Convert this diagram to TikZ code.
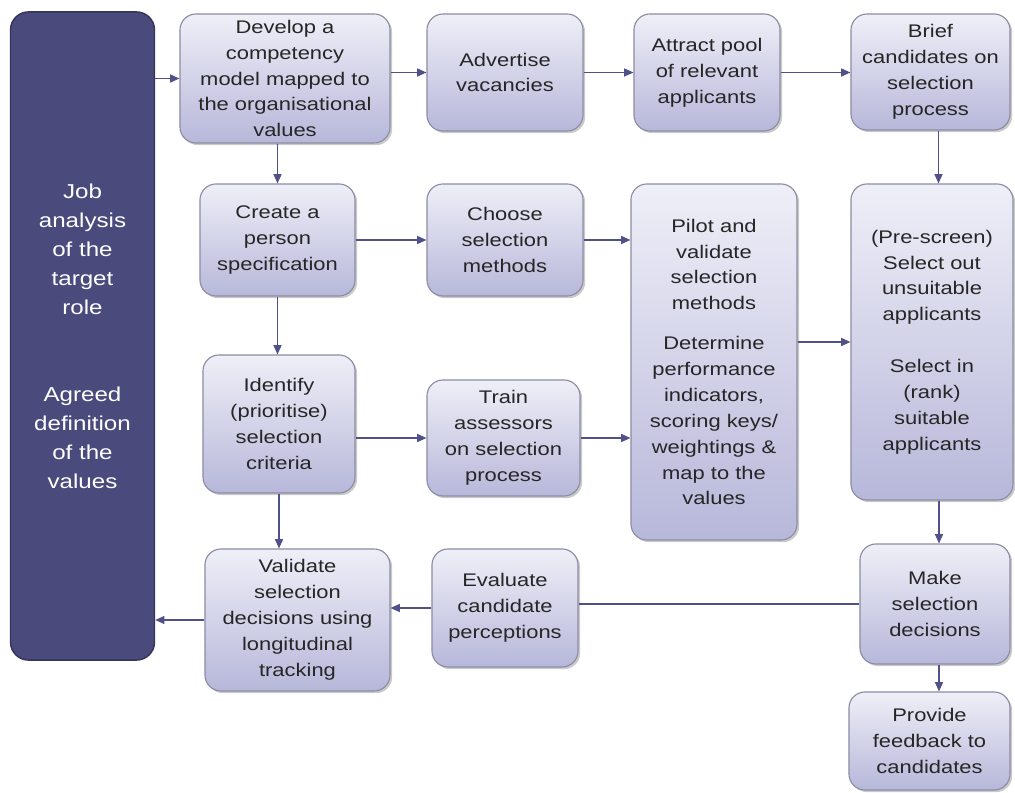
\documentclass[tikz,border=0pt]{standalone}
\usepackage{fontspec}
\setmainfont{Liberation Sans}[FakeStretch=1.2]
\usetikzlibrary{arrows.meta,shadows}
\definecolor{barfill}{HTML}{4B4A7D}
\definecolor{barline}{HTML}{34335A}
\definecolor{boxtop}{HTML}{EFEFF8}
\definecolor{boxbot}{HTML}{B7B7DA}
\definecolor{boxline}{HTML}{8C8CA4}
\definecolor{flowline}{HTML}{50508A}

\begin{document}
\begin{tikzpicture}[x=0.025cm, y=-0.025cm, ->, >={Triangle[length=2.3mm, width=2mm]},
  every edge/.style={draw=flowline, line width=0.9pt},
  stepbox/.style={rectangle, rounded corners=4mm, draw=boxline, line width=0.8pt,
    top color=boxtop, bottom color=boxbot, align=center, inner sep=1pt,
    text=black!85, font=\fontsize{13}{18.4}\selectfont,
    drop shadow={shadow xshift=1.5pt, shadow yshift=-1.5pt, opacity=0.35, fill=black!60}}]
\useasboundingbox (0,0) rectangle (1015,793);
\node[rectangle, rounded corners=4.5mm, draw=barline, line width=1pt, fill=barfill, text=white,
  align=center, font=\fontsize{14.3}{20.6}\selectfont, minimum width=3.6cm, minimum height=16.2cm]
  (Bar) at (82.5,336) {Job\\analysis\\of the\\target\\role\\[41.2pt]Agreed\\definition\\of the\\values};
\node[stepbox, minimum width=5.25cm, minimum height=3.225cm] (Dev) at (285,78.5) {Develop a\\competency\\model mapped to\\the organisational\\values};
\node[stepbox, minimum width=3.9cm, minimum height=2.925cm] (Adv) at (505,72.5) {Advertise\\vacancies};
\node[stepbox, minimum width=3.65cm, minimum height=2.925cm] (Att) at (707,72.5) {Attract pool\\of relevant\\applicants};
\node[stepbox, minimum width=3.975cm, minimum height=2.9cm] (Brief) at (930.5,72) {Brief\\candidates on\\selection\\process};
\node[stepbox, minimum width=3.875cm, minimum height=2.8cm] (Create) at (277.5,240) {Create a\\person\\specification};
\node[stepbox, minimum width=3.9cm, minimum height=2.8cm] (Choose) at (505,240) {Choose\\selection\\methods};
\node[stepbox, minimum width=4.15cm, minimum height=8.9cm] (Pilot) at (714,362) {Pilot and\\validate\\selection\\methods\\[10pt]Determine\\performance\\indicators,\\scoring keys/\\weightings \&\\map to the\\values};
\node[stepbox, minimum width=4.05cm, minimum height=7.9cm] (Screen) at (932,342) {(Pre-screen)\\Select out\\unsuitable\\applicants\\[18.4pt]Select in\\(rank)\\suitable\\applicants};
\node[stepbox, minimum width=3.8cm, minimum height=3.45cm] (Ident) at (279,424) {Identify\\(prioritise)\\selection\\criteria};
\node[stepbox, minimum width=3.825cm, minimum height=2.9cm] (Train) at (503.5,438) {Train\\assessors\\on selection\\process};
\node[stepbox, minimum width=4.625cm, minimum height=3.55cm] (Valid) at (297.5,620) {Validate\\selection\\decisions using\\longitudinal\\tracking};
\node[stepbox, minimum width=3.65cm, minimum height=2.95cm] (Eval) at (505,608) {Evaluate\\candidate\\perceptions};
\node[stepbox, minimum width=3.75cm, minimum height=3cm] (Make) at (935,604) {Make\\selection\\decisions};
\node[stepbox, minimum width=4.025cm, minimum height=2.45cm] (Prov) at (929.5,741) {Provide\\feedback to\\candidates};
% top row
\path (Bar.east |- Dev.west) edge (Dev.west);
\path (Dev.east |- Adv.west) edge (Adv.west);
\path (Adv.east) edge (Att.west);
\path (Att.east) edge (Att.east -| Brief.west);
\path (Dev.south -| Create.north) edge (Create.north);
\path ([xshift=0.2cm]Brief.south) edge ([xshift=0.2cm]Brief.south |- Screen.north);
% middle rows
\path (Create.east) edge (Choose.west);
\path (Choose.east) edge (Choose.east -| Pilot.west);
\path (Create.south) edge (Create.south |- Ident.north);
\path (Ident.east |- Train.west) edge (Train.west);
\path (Train.east) edge (Train.east -| Pilot.west);
\path (Pilot.east |- Screen.west) edge (Screen.west);
\path ([xshift=0.1cm]Screen.south -| Make.north) edge ([xshift=0.1cm]Make.north);
% bottom row
\path (Ident.south) edge (Ident.south |- Valid.north);
\path ([xshift=0.1cm]Make.south) edge ([xshift=0.1cm]Make.south |- Prov.north);
\path (Make.west) edge[-] (Make.west -| Eval.east);
\path (Eval.west) edge (Eval.west -| Valid.east);
\path (Valid.west) edge (Valid.west -| Bar.east);
\end{tikzpicture}
\end{document}
